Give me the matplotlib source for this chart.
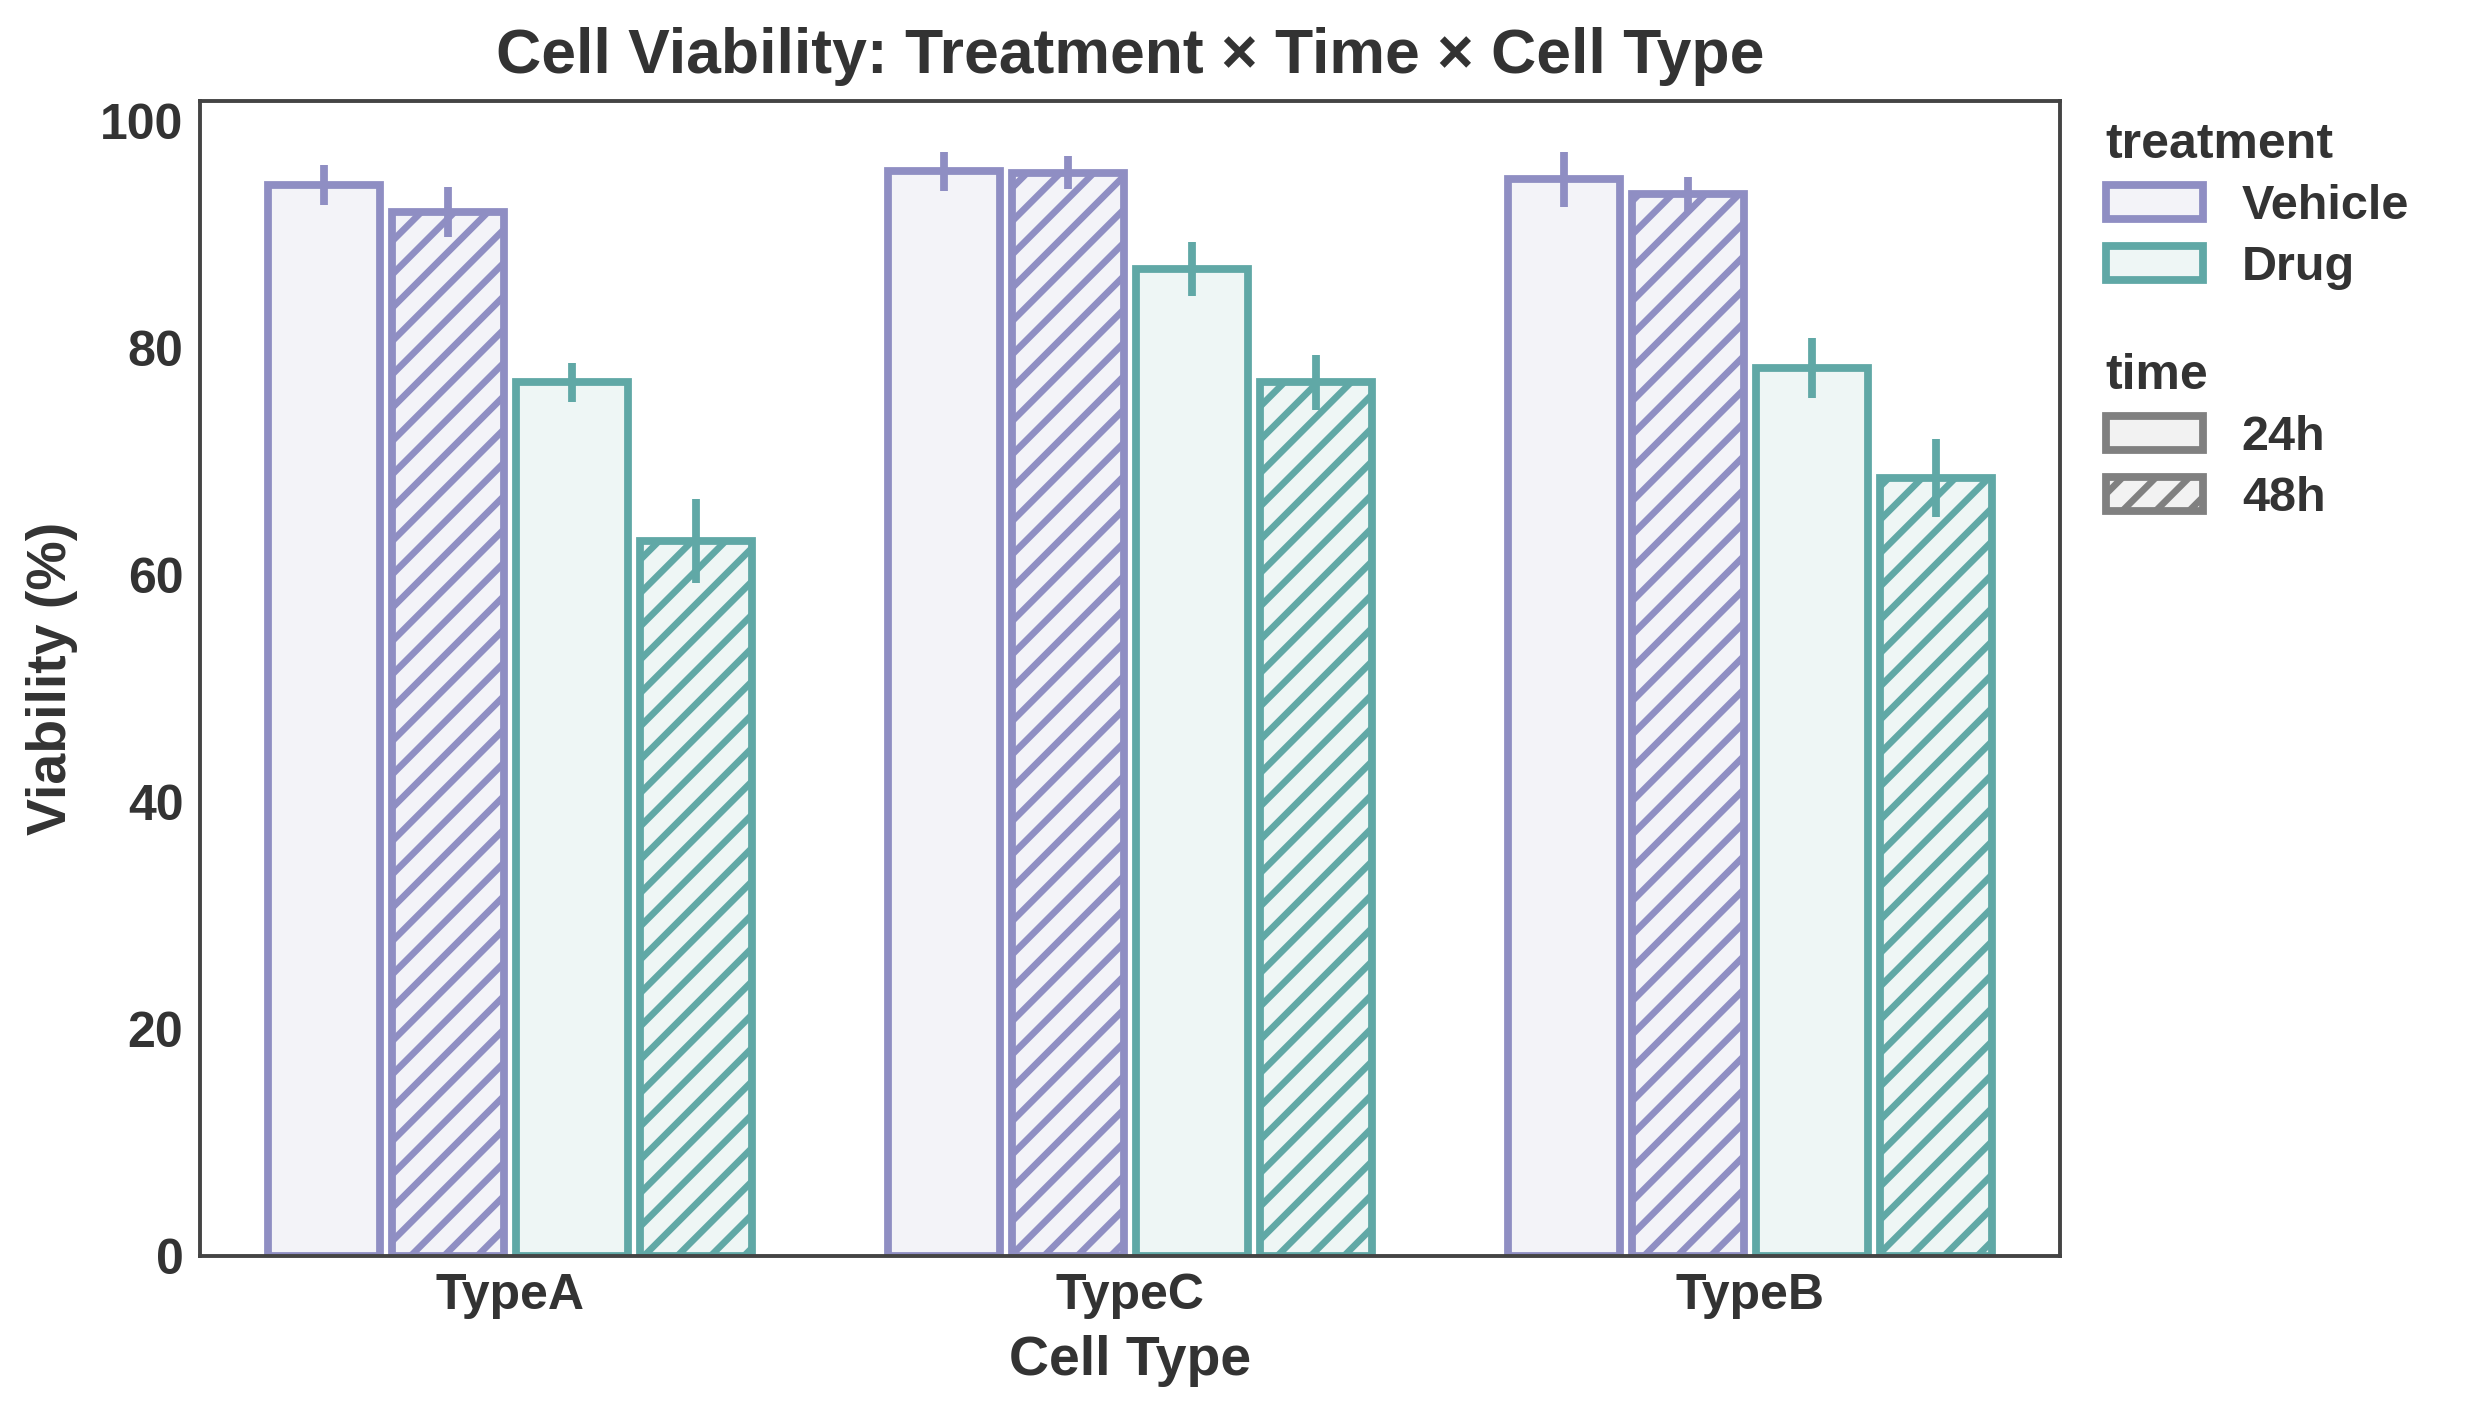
import numpy as np
import matplotlib
matplotlib.use("Agg")
import matplotlib.pyplot as plt
from matplotlib.patches import Patch

# --- data ---
cell_types = ["TypeA", "TypeC", "TypeB"]
treatments = ["Vehicle", "Drug"]
times = ["24h", "48h"]

vehicle_24h = [94.4, 95.6, 94.9]
vehicle_48h = [92.0, 95.5, 93.6]
drug_24h = [77.0, 87.0, 78.3]
drug_48h = [63.0, 77.0, 68.6]

vehicle_24h_err = [1.75, 1.7, 2.4]
vehicle_48h_err = [2.2, 1.45, 1.5]
drug_24h_err = [1.75, 2.35, 2.65]
drug_48h_err = [3.7, 2.45, 3.45]

TXT = "#333333"
COL = {"Vehicle": "#8F8EC3", "Drug": "#60A8A6"}
HATCH = {"24h": "", "48h": "//"}

plt.rcParams["font.family"] = ["Liberation Sans", "DejaVu Sans"]
plt.rcParams["font.weight"] = "bold"
plt.rcParams["hatch.linewidth"] = 2.4
plt.rcParams["text.color"] = TXT

fig = plt.figure(figsize=(12.33, 7.095), dpi=200)
ax = fig.add_axes([0.0811, 0.1149, 0.7543, 0.8139])

series = [("Vehicle", "24h", vehicle_24h, vehicle_24h_err),
          ("Vehicle", "48h", vehicle_48h, vehicle_48h_err),
          ("Drug", "24h", drug_24h, drug_24h_err),
          ("Drug", "48h", drug_48h, drug_48h_err)]
x = np.arange(len(cell_types))
w = 0.2
for i, (tr, tm, vals, err) in enumerate(series):
    pos = x + (i - 1.5) * w
    c = COL[tr]
    rgb = matplotlib.colors.to_rgb(c)
    ax.bar(pos, vals, width=w * 0.9, facecolor=(*rgb, 0.1), edgecolor=c,
           linewidth=2.8, hatch=HATCH[tm], zorder=2)
    ax.errorbar(pos, vals, yerr=err, fmt="none", ecolor=c, elinewidth=2.8,
                capsize=0, zorder=3)

ax.set_xlim(-0.5, 2.5)
ax.set_ylim(0, 101.8)
ax.set_xticks(x)
ax.set_xticklabels(cell_types)
ax.set_yticks([0, 20, 40, 60, 80, 100])
ax.tick_params(length=0, pad=6, labelsize=18, colors=TXT)
for s in ax.spines.values():
    s.set_color("#444444")
    s.set_linewidth(1.4)

ax.set_title("Cell Viability: Treatment × Time × Cell Type", fontsize=22.5,
             fontweight="bold", color=TXT, pad=10)
ax.set_xlabel("Cell Type", fontsize=20, fontweight="bold", color=TXT, labelpad=6)
ax.set_ylabel("Viability (%)", fontsize=20, fontweight="bold", color=TXT, labelpad=8)

h1 = [Patch(facecolor=(*matplotlib.colors.to_rgb(COL[t]), 0.1), edgecolor=COL[t],
            linewidth=2.8, label=t) for t in treatments]
leg1 = ax.legend(handles=h1, title="treatment", loc="upper left",
                 bbox_to_anchor=(1.001, 1.02), frameon=False, fontsize=17.5,
                 title_fontsize=18, alignment="left", labelspacing=0.33)
ax.add_artist(leg1)
h2 = [Patch(facecolor="#f2f2f2", edgecolor="#808080", linewidth=2.8,
            hatch=HATCH[t], label=t) for t in times]
ax.legend(handles=h2, title="time", loc="upper left",
          bbox_to_anchor=(1.001, 0.82), frameon=False, fontsize=17.5,
          title_fontsize=18, alignment="left", labelspacing=0.33)

fig.savefig("out.png", dpi=200)
